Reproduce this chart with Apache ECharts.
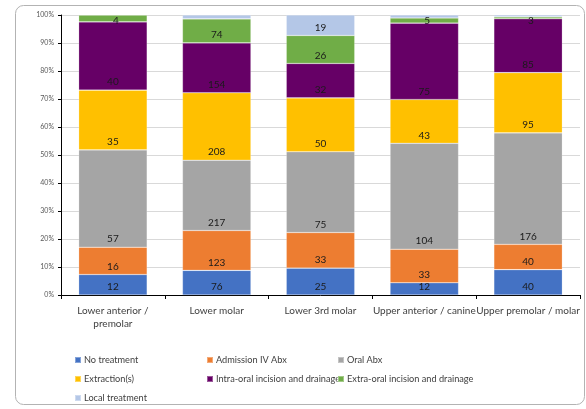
<!DOCTYPE html>
<html>
<head>
<meta charset="utf-8">
<script src="https://cdn.jsdelivr.net/npm/echarts@6/dist/echarts.min.js"></script>
<style>
  html, body { margin: 0; padding: 0; background: #fff; }
  #chart { width: 586px; height: 409px; }
</style>
</head>
<body>
<div id="chart"></div>
<script>
// Treatment given, by tooth location (counts; bars show each column as 100%)
const categories = ['Lower anterior /\npremolar', 'Lower molar', 'Lower 3rd molar', 'Upper anterior / canine', 'Upper premolar / molar'];
const seriesNames = ['No treatment', 'Admission IV Abx', 'Oral Abx', 'Extraction(s)', 'Intra-oral incision and drainage', 'Extra-oral incision and drainage', 'Local treatment'];
const noTreatment = [12, 76, 25, 12, 40];
const admissionIvAbx = [16, 123, 33, 33, 40];
const oralAbx = [57, 217, 75, 104, 176];
const extractions = [35, 208, 50, 43, 95];
const intraOralID = [40, 154, 32, 75, 85];
const extraOralID = [4, 74, 26, 5, 3];
const localTreatment = [0, 12, 19, 3, 3];
const yTicks = [0, 10, 20, 30, 40, 50, 60, 70, 80, 90, 100];

const values = [noTreatment, admissionIvAbx, oralAbx, extractions, intraOralID, extraOralID, localTreatment];
const colors = ['#4472C4', '#ED7D31', '#A5A5A5', '#FFC000', '#660066', '#70AD47', '#B4C7E7'];
// value labels left off for these columns of "Local treatment"
const unlabeledLocal = [0, 1, 3, 4];

const totals = categories.map((_, i) => values.reduce((s, arr) => s + arr[i], 0));

const FONT = 'Lato, "Open Sans", sans-serif';
const GRID_TOP = 15;

const series = values.map((arr, si) => ({
  name: seriesNames[si],
  type: 'bar',
  stack: 'total',
  barWidth: '66%',
  itemStyle: { color: colors[si], borderColor: 'rgba(255,255,255,0.35)', borderWidth: 0.6 },
  label: {
    show: true,
    position: 'insideBottom',
    distance: 3,
    fontFamily: FONT,
    fontSize: 10,
    color: '#1a1a1a',
    formatter: p => String(arr[p.dataIndex])
  },
  // keep labels of thin top segments inside the plot area
  labelLayout: function (params) {
    const r = params.labelRect;
    if (r.y < GRID_TOP) {
      return { y: GRID_TOP + 6, verticalAlign: 'middle' };
    }
    return {};
  },
  data: arr.map((v, ci) => {
    const d = { value: v / totals[ci] * 100 };
    if (si === 6 && unlabeledLocal.indexOf(ci) >= 0) d.label = { show: false };
    return d;
  })
}));

// legend laid out as three columns
const legendCols = [
  { left: 74, names: [seriesNames[0], seriesNames[3], seriesNames[6]] },
  { left: 206, names: [seriesNames[1], seriesNames[4]] },
  { left: 337, names: [seriesNames[2], seriesNames[5]] }
];
const legends = legendCols.map(c => ({
  orient: 'vertical',
  left: c.left,
  top: 354,
  itemGap: 7,
  itemWidth: 6,
  itemHeight: 6,
  icon: 'rect',
  padding: 0,
  selectedMode: false,
  textStyle: { fontFamily: FONT, fontSize: 9.2, lineHeight: 12, color: '#404040', padding: [0, 0, 0, -2] },
  data: c.names
}));

const chart = echarts.init(document.getElementById('chart'), null, { renderer: 'canvas' });
chart.setOption({
  animation: false,
  backgroundColor: '#fff',
  graphic: [{
    type: 'rect',
    shape: { x: 15.5, y: 5.5, width: 569, height: 399, r: 8 },
    style: { fill: 'none', stroke: '#b3b3b3', lineWidth: 1 },
    silent: true,
    z: -1
  }],
  grid: { left: 61, right: 6, top: GRID_TOP, bottom: 114, containLabel: false },
  legend: legends,
  xAxis: {
    type: 'category',
    data: categories,
    axisLine: { lineStyle: { color: '#000', width: 1 } },
    axisTick: { show: true, length: 4, lineStyle: { color: '#000' } },
    axisLabel: { interval: 0, margin: 9, fontFamily: FONT, fontSize: 10, color: '#404040', lineHeight: 13 }
  },
  yAxis: {
    type: 'value',
    min: yTicks[0],
    max: yTicks[yTicks.length - 1],
    interval: yTicks[1] - yTicks[0],
    axisLine: { show: true, lineStyle: { color: '#000', width: 1 } },
    axisTick: { show: true, length: 3, lineStyle: { color: '#000' } },
    splitLine: { lineStyle: { color: '#d9d9d9', width: 1 } },
    axisLabel: { formatter: '{value}%', margin: 7, fontFamily: FONT, fontSize: 7, color: '#595959' }
  },
  series: series
});
</script>
</body>
</html>
